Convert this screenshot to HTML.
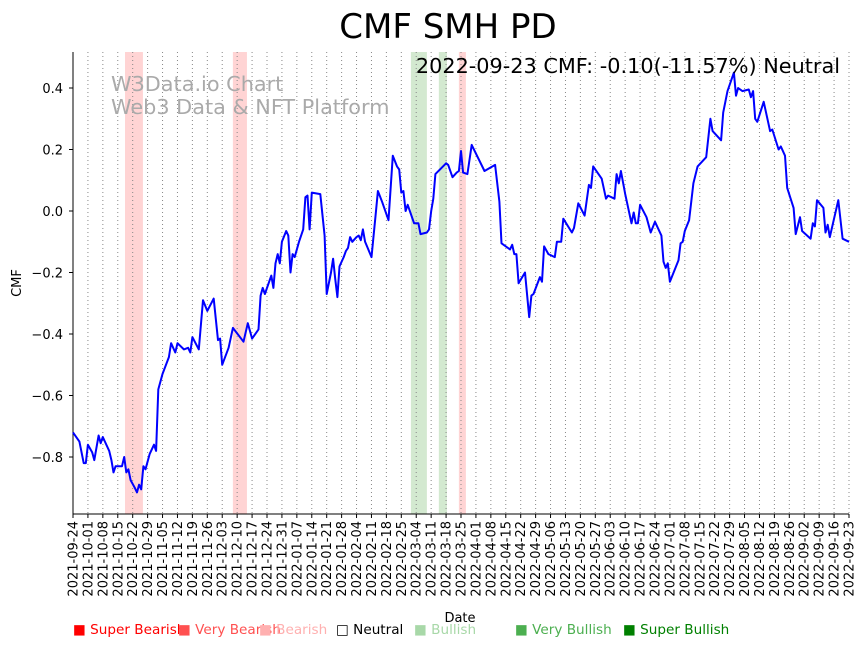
<!DOCTYPE html>
<html><head><meta charset="utf-8"><style>
body{margin:0;background:#fff;font-family:"DejaVu Sans","Liberation Sans",sans-serif;}
svg text{font-family:"DejaVu Sans","Liberation Sans",sans-serif;}
</style></head><body>
<svg id="chart" width="864" height="646" xmlns="http://www.w3.org/2000/svg"></svg>
<script>
const startDate = "2021-09-24";
const days = [0,3,5,6,7,9,10,12,13,14,17,18,19,20,23,24,25,26,27,29,30,31,32,33,34,36,38,39,40,42,45,46,48,49,52,54,55,56,59,61,63,66,68,69,70,73,75,80,82,84,87,88,89,90,93,94,95,96,97,98,100,101,102,103,104,106,108,109,110,111,112,116,118,119,121,122,123,124,125,127,128,129,130,131,133,134,135,136,137,140,142,143,145,148,150,152,153,154,155,156,157,160,162,163,166,167,168,169,170,175,176,178,180,181,182,183,185,187,193,198,200,201,205,206,207,208,209,212,214,215,216,219,220,221,223,226,227,229,230,234,235,237,240,242,243,244,248,250,251,254,255,256,257,259,262,263,264,265,266,269,271,273,276,277,278,279,280,284,285,286,287,289,291,293,297,299,300,304,305,307,310,311,312,314,317,318,319,320,321,324,327,328,331,332,334,335,338,339,341,342,346,347,348,349,352,353,354,355,359,361,364];
const cmf = [-0.72,-0.75,-0.82,-0.82,-0.76,-0.785,-0.81,-0.73,-0.755,-0.735,-0.78,-0.81,-0.85,-0.83,-0.83,-0.80,-0.85,-0.84,-0.875,-0.90,-0.915,-0.89,-0.905,-0.83,-0.84,-0.79,-0.76,-0.78,-0.58,-0.53,-0.475,-0.43,-0.46,-0.43,-0.45,-0.445,-0.46,-0.41,-0.45,-0.29,-0.325,-0.285,-0.42,-0.415,-0.50,-0.445,-0.38,-0.425,-0.365,-0.415,-0.385,-0.275,-0.25,-0.27,-0.21,-0.25,-0.17,-0.14,-0.17,-0.10,-0.065,-0.08,-0.20,-0.14,-0.15,-0.10,-0.06,0.045,0.05,-0.06,0.06,0.055,-0.08,-0.27,-0.2,-0.155,-0.22,-0.28,-0.18,-0.15,-0.13,-0.12,-0.085,-0.10,-0.085,-0.08,-0.095,-0.06,-0.10,-0.15,-0.01,0.065,0.03,-0.03,0.18,0.145,0.135,0.06,0.065,0.0,0.02,-0.04,-0.04,-0.075,-0.07,-0.06,0.0,0.04,0.12,0.155,0.15,0.11,0.125,0.13,0.195,0.125,0.12,0.215,0.13,0.15,0.03,-0.105,-0.125,-0.11,-0.14,-0.14,-0.235,-0.20,-0.345,-0.275,-0.27,-0.215,-0.23,-0.115,-0.14,-0.15,-0.10,-0.10,-0.025,-0.07,-0.055,0.025,-0.015,0.085,0.075,0.145,0.105,0.04,0.05,0.04,0.12,0.09,0.13,0.055,-0.04,-0.005,-0.04,-0.04,0.02,-0.02,-0.07,-0.035,-0.08,-0.165,-0.185,-0.17,-0.23,-0.16,-0.105,-0.10,-0.065,-0.03,0.09,0.145,0.175,0.30,0.26,0.23,0.32,0.39,0.45,0.375,0.40,0.39,0.395,0.37,0.39,0.30,0.29,0.355,0.26,0.265,0.20,0.21,0.18,0.075,0.01,-0.075,-0.02,-0.065,-0.09,-0.04,-0.05,0.035,0.01,-0.07,-0.045,-0.085,0.035,-0.09,-0.10];
const spanStart = [24.4,75,158.5,171.6,181];
const spanEnd = [32.8,81.6,166,175.4,184.3];
const spanColor = ["#ffd4d4","#ffd4d4","#d3e9d0","#d3e9d0","#ffd4d4"];
const yTicks = [0.4,0.2,0.0,-0.2,-0.4,-0.6,-0.8];
const legendLabels = ["Super Bearish","Very Bearish","Bearish","Neutral","Bullish","Very Bullish","Super Bullish"];
const legendColors = ["#ff0000","#ff5050","#ffb0b0","#000000","#a8d8a8","#4caf50","#008000"];

const svg = document.getElementById('chart');
const NS = "http://www.w3.org/2000/svg";
const X0=73, X1=849, Y0=52, Y1=514;
const dayMax=364;
const xs = d => X0 + d*(X1-X0)/dayMax;
const ys = v => 211 - v*307.5;
function mk(tag, attrs){const e=document.createElementNS(NS,tag);for(const k in attrs)e.setAttribute(k,attrs[k]);svg.appendChild(e);return e;}

for(let i=0;i<spanStart.length;i++){
  const r=mk('rect',{x:xs(spanStart[i]),y:Y0,width:xs(spanEnd[i])-xs(spanStart[i]),height:Y1-Y0,fill:spanColor[i]});
  
  
}
const base=new Date(startDate+"T00:00:00Z");
for(let k=0;k<=52;k++){
  const d=k*7, x=xs(d);
  const g=mk('line',{x1:x,y1:Y0,x2:x,y2:Y1,stroke:'#888','stroke-width':1,'stroke-dasharray':'1,3'});
  
  
  mk('line',{x1:x,y1:Y1,x2:x,y2:Y1+4,stroke:'#000'});
  const dt=new Date(base.getTime()+d*86400000);
  const lbl=dt.toISOString().slice(0,10);
  const t=mk('text',{x:0,y:0,'font-size':13,'text-anchor':'end',transform:`translate(${x+4.5},${Y1+7}) rotate(-90)`});
  t.textContent=lbl;
  
  
}
yTicks.forEach(v=>{
  const y=ys(v);
  mk('line',{x1:X0-4,y1:y,x2:X0,y2:y,stroke:'#000'});
  const t=mk('text',{x:63,y:y+5,'font-size':13,'text-anchor':'end'});
  t.textContent=v.toFixed(1).replace('-','\u2212');
  
  
});
const ax=mk('path',{d:`M${X0},${Y0} V${Y1} H${X1}`,stroke:'#000',fill:'none','stroke-width':1});



let pd='';
for(let i=0;i<days.length;i++){pd+=(i?'L':'M')+xs(days[i]).toFixed(1)+','+ys(cmf[i]).toFixed(1);}
const line=mk('path',{d:pd,stroke:'#0000ff',fill:'none','stroke-width':2,'stroke-linejoin':'round'});



function txt(name,x,y,s,attrs,content){const t=mk('text',Object.assign({x:x,y:y,'font-size':s},attrs));t.textContent=content;return t;}
txt('chart-title',448,38,34,{'text-anchor':'middle'},'CMF SMH PD');
txt('latest-value-annotation',840,73,20.8,{'text-anchor':'end'},'2022-09-23 CMF: -0.10(-11.57%) Neutral');
txt('watermark-line1',111,91,20.8,{fill:'#aaaaaa'},'W3Data.io Chart');
txt('watermark-line2',111,114,20.8,{fill:'#aaaaaa'},'Web3 Data & NFT Platform');
txt('x-axis-title',460,622,13,{'text-anchor':'middle'},'Date');
txt('y-axis-title',0,0,13,{'text-anchor':'middle',transform:'translate(21,283) rotate(-90)'},'CMF');

const legX=[73,178,259,336,414,515,623];
for(let i=0;i<legendLabels.length;i++){
  txt('legend-entry',legX[i],634,13.6,{fill:legendColors[i]},(i==3?'□ ':'■ ')+legendLabels[i]);
}
</script>
</body></html>
